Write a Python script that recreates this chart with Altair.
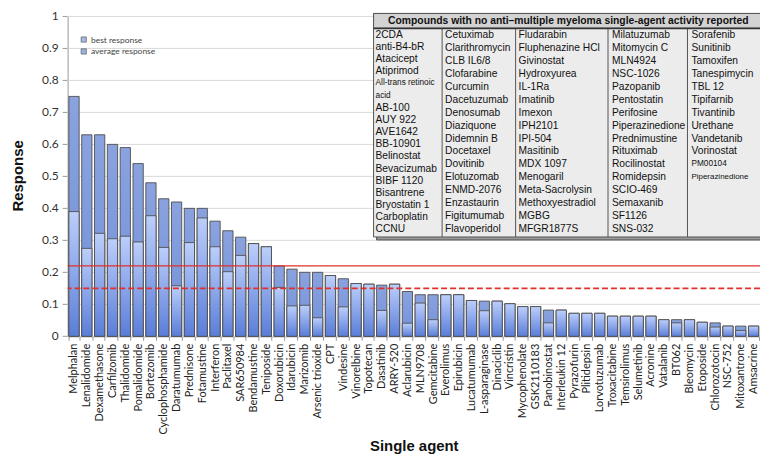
import altair as alt
import pandas as pd

# ---------------- data ----------------
agents = ["Melphalan", "Lenalidomide", "Dexamethasone", "Carfilzomib", "Thalidomide",
          "Pomalidomide", "Bortezomib", "Cyclophosphamide", "Daratumumab", "Prednisone",
          "Fotamustine", "Interferon", "Paclitaxel", "SAR650984", "Bendamustine",
          "Teniposide", "Doxorubicin", "Idarubicin", "Marizomib", "Arsenic trioxide",
          "CPT", "Vindesine", "Vinorelbine", "Topotecan", "Dasatinib", "ARRY-520",
          "Aclarubicin", "MLN9708", "Gemcitabine", "Everolimus", "Epirubicin",
          "Lucatumumab", "L-asparaginase", "Dinaciclib", "Vincristin", "Mycophenolate",
          "GSK2110183", "Panobinostat", "Interleukin 12", "Pyrazofurin", "Plitidepsin",
          "Lorvotuzumab", "Troxacitabine", "Temsirolimus", "Selumetinib", "Acronine",
          "Vatalanib", "BT062", "Bleomycin", "Etoposide", "Chlorozotocin", "NSC-752",
          "Mitoxantrone", "Amsacrine"]

best_response = [0.75, 0.63, 0.63, 0.60, 0.59, 0.54, 0.48, 0.43, 0.42, 0.40,
                 0.40, 0.36, 0.33, 0.31, 0.29, 0.28, 0.22, 0.21, 0.20, 0.20,
                 0.19, 0.18, 0.165, 0.163, 0.16, 0.163, 0.14, 0.13, 0.13, 0.13,
                 0.13, 0.112, 0.11, 0.11, 0.102, 0.093, 0.093, 0.082, 0.082, 0.072,
                 0.072, 0.072, 0.063, 0.063, 0.063, 0.063, 0.052, 0.052, 0.052, 0.044,
                 0.042, 0.032, 0.032, 0.032]

average_response = [0.39, 0.275, 0.322, 0.305, 0.313, 0.295, 0.377, 0.278, 0.158, 0.293,
                    0.37, 0.28, 0.202, 0.253, 0.29, 0.28, 0.153, 0.095, 0.097, 0.058,
                    0.19, 0.092, 0.165, 0.163, 0.081, 0.163, 0.041, 0.104, 0.052, 0.13,
                    0.13, 0.112, 0.08, 0.11, 0.102, 0.093, 0.093, 0.042, 0.082, 0.072,
                    0.072, 0.072, 0.063, 0.063, 0.063, 0.063, 0.052, 0.042, 0.052, 0.044,
                    0.029, 0.032, 0.018, 0.032]

threshold_solid = [0.22]
threshold_dashed = [0.15]
legend_labels = ["best response", "average response"]
y_ticks = [0, 0.1, 0.2, 0.3, 0.4, 0.5, 0.6, 0.7, 0.8, 0.9, 1]
y_tick_labels = ["0", "0.1", "0.2", "0.3", "0.4", "0.5", "0.6", "0.7", "0.8", "0.9", "1"]

table_title = "Compounds with no anti\u2013multiple myeloma single-agent activity reported"
table_col1 = ["2CDA", "anti-B4-bR", "Atacicept", "Atiprimod", "All-trans retinoic", "acid",
              "AB-100", "AUY 922", "AVE1642", "BB-10901", "Belinostat", "Bevacizumab",
              "BIBF 1120", "Bisantrene", "Bryostatin 1", "Carboplatin", "CCNU"]
table_col2 = ["Cetuximab", "Clarithromycin", "CLB IL6/8", "Clofarabine", "Curcumin",
              "Dacetuzumab", "Denosumab", "Diaziquone", "Didemnin B", "Docetaxel",
              "Dovitinib", "Elotuzomab", "ENMD-2076", "Enzastaurin", "Figitumumab",
              "Flavoperidol"]
table_col3 = ["Fludarabin", "Fluphenazine HCl", "Givinostat", "Hydroxyurea", "IL-1Ra",
              "Imatinib", "Imexon", "IPH2101", "IPI-504", "Masitinib", "MDX 1097",
              "Menogaril", "Meta-Sacrolysin", "Methoxyestradiol", "MGBG", "MFGR1877S"]
table_col4 = ["Milatuzumab", "Mitomycin C", "MLN4924", "NSC-1026", "Pazopanib",
              "Pentostatin", "Perifosine", "Piperazinedione", "Prednimustine", "Rituximab",
              "Rocilinostat", "Romidepsin", "SCIO-469", "Semaxanib", "SF1126", "SNS-032"]
table_col5 = ["Sorafenib", "Sunitinib", "Tamoxifen", "Tanespimycin", "TBL 12", "Tipifarnib",
              "Tivantinib", "Urethane", "Vandetanib", "Vorinostat", "PM00104",
              "Piperazinedione"]
small_entries = {"All-trans retinoic", "acid", "PM00104"}
tiny_entries = {"Piperazinedione"}

# ---------------- layout / style ----------------
W, H = 697, 322
TBL_LEFT, TBL_RIGHT, TBL_TOP, TBL_BOTTOM, TBL_HEAD = 308, 698, -3, 222, 12
COL_SEPS = [377, 451, 544, 624]
COL_TEXT_X = [310, 380, 454, 548, 628]
ROW_START, ROW_STEP = 18.5, 13.05
COL1_STEP = (214.3 - 18.5) / 16

FONT_AX = "Lato"
FONT_TBL = "Liberation Sans"

df = pd.DataFrame({"agent": agents, "best": best_response, "avg": average_response})
ticks_df = pd.DataFrame({"t": y_ticks, "lab": y_tick_labels})

x_axis = alt.Axis(title="Single agent", labelAngle=-90, labelFont=FONT_AX,
                  labelFontSize=11, labelColor="#222", labelPadding=3,
                  tickBand="extent", tickSize=4, tickColor="#999",
                  domainColor="#999", titleFont=FONT_TBL, titleFontSize=15,
                  titleFontWeight="bold", titleColor="#111",
                  titleY=110, titleBaseline="middle")
y_axis = alt.Axis(title="Response", grid=False, labels=False, ticks=False,
                  domainColor="#999",
                  titleFont=FONT_TBL, titleFontSize=15, titleFontWeight="bold",
                  titleColor="#111", titleX=-50, titleY=160,
                  titleBaseline="middle")
x_scale = alt.Scale(paddingInner=0.2, paddingOuter=0.1)
y_scale = alt.Scale(domain=[0, 1], nice=False, zero=True)

best_grad = alt.Gradient(gradient="linear",
                         stops=[alt.GradientStop(color="#8aa3df", offset=0),
                                alt.GradientStop(color="#7090d8", offset=1)],
                         x1=0, x2=0, y1=0, y2=1)
avg_grad = alt.Gradient(gradient="linear",
                        stops=[alt.GradientStop(color="#bccffb", offset=0),
                               alt.GradientStop(color="#5a7dd8", offset=1)],
                        x1=0, x2=0, y1=0, y2=1)

# gridlines, tick marks and tick labels of the response axis, through the y scale
grid = alt.Chart(ticks_df).mark_rule(color="#d9d9d9", strokeWidth=1).encode(
    y=alt.Y("t:Q", scale=y_scale, axis=y_axis))
yticks = alt.Chart(ticks_df).mark_rule(color="#999", strokeWidth=1).encode(
    y=alt.Y("t:Q"), x=alt.value(-5), x2=alt.value(0))
ylabels = alt.Chart(ticks_df).mark_text(align="right", baseline="middle", font=FONT_AX,
                                        fontSize=12, color="#333").encode(
    y=alt.Y("t:Q"), x=alt.value(-9), text="lab:N")

bars_best = alt.Chart(df).mark_bar(fill=best_grad, stroke="#4d4d4d", strokeWidth=0.9).encode(
    x=alt.X("agent:N", sort=agents, scale=x_scale, axis=x_axis),
    y=alt.Y("best:Q"))
bars_avg = alt.Chart(df).mark_bar(fill=avg_grad, stroke="#4d4d4d", strokeWidth=0.9).encode(
    x=alt.X("agent:N", sort=agents),
    y=alt.Y("avg:Q"))

rule_solid = alt.Chart(pd.DataFrame({"v": threshold_solid})).mark_rule(
    color="#e0302b", strokeWidth=1.3).encode(y=alt.Y("v:Q"))
rule_dashed = alt.Chart(pd.DataFrame({"v": threshold_dashed})).mark_rule(
    color="#e0302b", strokeWidth=1.6, strokeDash=[6, 3]).encode(y=alt.Y("v:Q"))

leg_df = pd.DataFrame({"series": legend_labels, "agent": [agents[0]] * 2, "v": [0, 0]})
legend_layer = alt.Chart(leg_df).mark_square().encode(
    x=alt.X("agent:N", sort=agents),
    y=alt.Y("v:Q"),
    color=alt.Color("series:N",
                    scale=alt.Scale(domain=legend_labels, range=["#7d98d8", "#6f8fd8"]),
                    legend=alt.Legend(title=None, orient="none", legendX=12, legendY=19,
                                      symbolType="square", symbolSize=28,
                                      symbolStrokeColor="#333", symbolStrokeWidth=0.8,
                                      labelFont=FONT_AX, labelFontSize=8.5,
                                      labelColor="#444", rowPadding=3,
                                      labelOffset=3))
).transform_filter("false")

main = alt.layer(grid, yticks, ylabels, bars_best, bars_avg, rule_solid, rule_dashed,
                 legend_layer)

# ---------------- table (own pixel-like scales) ----------------
tx_scale = alt.Scale(domain=[0, W], nice=False, zero=False)
ty_scale = alt.Scale(domain=[0, H], nice=False, zero=False, reverse=True)

frames = pd.DataFrame({
    "x": [TBL_LEFT + 3, TBL_LEFT, TBL_LEFT],
    "x2": [TBL_RIGHT + 3, TBL_RIGHT, TBL_RIGHT],
    "y": [TBL_TOP + 3, TBL_TOP, TBL_TOP],
    "y2": [TBL_BOTTOM + 3, TBL_BOTTOM, TBL_HEAD],
    "fill": ["#9a9a9a", "#ececec", "#d3d3d3"],
    "k": [0, 1, 2],
})
table_rects = alt.Chart(frames).mark_rect(stroke="#555", strokeWidth=1).encode(
    x=alt.X("x:Q", scale=tx_scale, axis=None), x2="x2:Q",
    y=alt.Y("y:Q", scale=ty_scale, axis=None), y2="y2:Q",
    fill=alt.Fill("fill:N", scale=None, legend=None),
    order="k:Q")

seps = pd.DataFrame({"x": COL_SEPS, "y": [TBL_HEAD] * 4, "y2": [TBL_BOTTOM] * 4})
table_seps = alt.Chart(seps).mark_rule(color="#555", strokeWidth=1).encode(
    x=alt.X("x:Q"), y=alt.Y("y:Q"), y2="y2:Q")

head_line = pd.DataFrame({"x": [TBL_LEFT], "x2": [TBL_RIGHT], "y": [TBL_HEAD]})
table_headline = alt.Chart(head_line).mark_rule(color="#333", strokeWidth=1.6).encode(
    x=alt.X("x:Q"), x2="x2:Q", y=alt.Y("y:Q"))

rows = []
for ci, names in enumerate([table_col1, table_col2, table_col3, table_col4, table_col5]):
    step = COL1_STEP if ci == 0 else ROW_STEP
    for ri, name in enumerate(names):
        fs = 10.3
        if name in small_entries:
            fs = 8.3
        if ci == 4 and name in tiny_entries:
            fs = 8
        rows.append({"x": COL_TEXT_X[ci], "y": ROW_START + ri * step, "label": name, "fs": fs})
tdf = pd.DataFrame(rows)
table_text = alt.Chart(tdf).mark_text(align="left", baseline="middle", font=FONT_TBL,
                                      color="#111").encode(
    x=alt.X("x:Q"), y=alt.Y("y:Q"),
    size=alt.Size("fs:Q", scale=None, legend=None),
    text="label:N")

hdf = pd.DataFrame({"x": [(TBL_LEFT + TBL_RIGHT) / 2 + 1], "y": [(TBL_TOP + TBL_HEAD) / 2 + 0.5],
                    "label": [table_title]})
table_head = alt.Chart(hdf).mark_text(align="center", baseline="middle", font=FONT_TBL,
                                      fontWeight="bold", fontSize=10.4, color="#111").encode(
    x=alt.X("x:Q"), y=alt.Y("y:Q"), text="label:N")

table = alt.layer(table_rects, table_seps, table_headline, table_text, table_head)

chart = alt.layer(main, table).resolve_scale(
    x="independent", y="independent"
).properties(
    width=W, height=H,
    autosize=alt.AutoSizeParams(type="none"),
    padding={"left": 60, "top": 7, "right": 0, "bottom": 122},
    background="white"
).configure_view(stroke=None)

chart.save("out.html", embed_options={"renderer": "svg", "actions": False})
